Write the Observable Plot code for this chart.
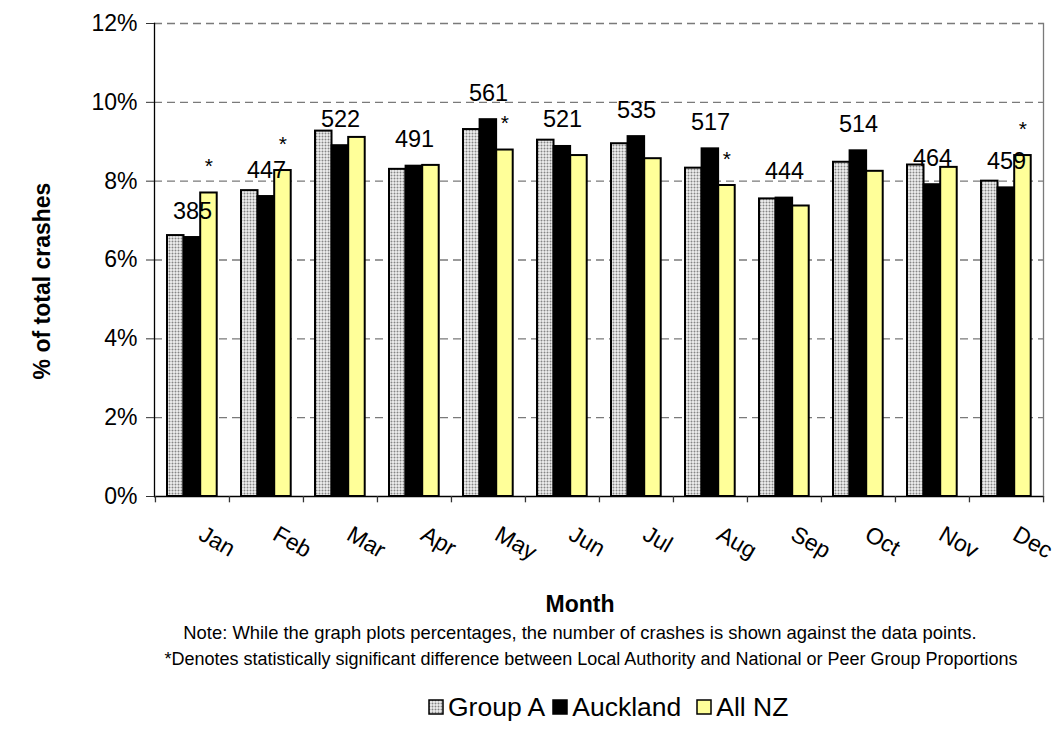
<!DOCTYPE html>
<html><head><meta charset="utf-8">
<script src="https://cdn.jsdelivr.net/npm/d3@7"></script>
<script src="https://cdn.jsdelivr.net/npm/@observablehq/plot@0.6"></script>
<style>
body{margin:0;background:#fff;font-family:"Liberation Sans",Arial,sans-serif;}
#wrap{position:relative;width:1058px;height:745px;overflow:hidden;}
#chart svg{font-family:"Liberation Sans",Arial,sans-serif;}
.abs{position:absolute;color:#000;white-space:nowrap;line-height:1;}
.legend{position:absolute;left:428px;top:694px;display:flex;align-items:center;font-size:26.5px;color:#000;line-height:1;}
.legend .item{display:flex;align-items:center;}
.legend svg{margin-right:4px;}
</style></head><body>
<div id="wrap">
<svg width="0" height="0" style="position:absolute"><defs>
<pattern id="dots" width="3" height="3" patternUnits="userSpaceOnUse">
<rect width="3" height="3" fill="#f0f0f0"/>
<circle cx="1.5" cy="1.5" r="1" fill="#858585"/>
</pattern></defs></svg>
<div id="chart"></div>
<div class="abs" style="left:0;width:1160px;text-align:center;top:593px;font-weight:bold;font-size:23px;">Month</div>
<div class="abs" style="left:0;width:1160px;text-align:center;top:624px;font-size:18.4px;">Note: While the graph plots percentages, the number of crashes is shown against the data points.</div>
<div class="abs" style="left:0;width:1182px;text-align:center;top:650px;font-size:18px;">*Denotes statistically significant difference between Local Authority and National or Peer Group Proportions</div>
<div class="legend" id="legend"></div>
</div>
<script>
const months = ["Jan","Feb","Mar","Apr","May","Jun","Jul","Aug","Sep","Oct","Nov","Dec"];
const seriesNames = ["Group A","Auckland","All NZ"];
const groupA   = [6.62, 7.76, 9.27, 8.30, 9.31, 9.04, 8.95, 8.33, 7.55, 8.48, 8.41, 8.00];
const auckland = [6.57, 7.61, 8.90, 8.38, 9.56, 8.88, 9.13, 8.82, 7.57, 8.77, 7.91, 7.83];
const allNZ    = [7.70, 8.27, 9.11, 8.40, 8.79, 8.65, 8.57, 7.89, 7.37, 8.25, 8.35, 8.65];
const counts   = [385, 447, 522, 491, 561, 521, 535, 517, 444, 514, 464, 459];
const significant = [true, true, false, false, true, false, false, true, false, false, false, true];
const yTicks = [0, 2, 4, 6, 8, 10, 12];

const fills = {"Group A": "url(#dots)", "Auckland": "#000000", "All NZ": "#FFFF99"};
const seriesValues = [groupA, auckland, allNZ];

const W = 1058, H = 580, mL = 154, mR = 15, mT = 23, mB = 84;
const bw = (W - mL - mR) / months.length;
const barW = 16.6, groupPad = 12;

const rows = months.map((m, i) => ({month: m, groupA: groupA[i], auckland: auckland[i], allNZ: allNZ[i], count: counts[i], sig: significant[i]}));

const barMarks = seriesNames.map((s, k) => Plot.barY(months.map((m, i) => ({month: m, value: seriesValues[k][i]})), {
  x: "month", y: "value", fill: fills[s], stroke: "#000", strokeWidth: 2,
  insetLeft: groupPad + k * barW, insetRight: bw - (groupPad + (k + 1) * barW)
}));

const chart = Plot.plot({
  width: W, height: H, marginLeft: mL, marginRight: mR, marginTop: mT, marginBottom: mB,
  x: {domain: months, padding: 0, axis: null},
  y: {domain: [0, 12], axis: null},
  style: {fontFamily: '"Liberation Sans", Arial, sans-serif', color: "#000", background: "#fff"},
  marks: [
    Plot.gridY(yTicks.filter(d => d > 0), {stroke: "#7a7a7a", strokeOpacity: 1, strokeDasharray: "8,5", strokeWidth: 1.3}),
    Plot.frame({anchor: "right", stroke: "#7a7a7a", strokeWidth: 1.3}),
    ...barMarks,
    Plot.ruleY([0], {stroke: "#000", strokeWidth: 1.3}),
    Plot.frame({anchor: "left", stroke: "#000", strokeWidth: 1.3}),
    Plot.axisY({ticks: yTicks, tickFormat: d => d + "%", tickSize: 8, tickPadding: 9, fontSize: 23, label: null, stroke: "#333"}),
    Plot.ruleX(months, {x: d => d, y1: 0, y2: -0.16, dx: -bw / 2, stroke: "#333", strokeWidth: 1.3}),
    Plot.ruleX([months[months.length - 1]], {x: d => d, y1: 0, y2: -0.16, dx: bw / 2, stroke: "#333", strokeWidth: 1.3}),
    Plot.text(months, {x: d => d, y: 0, text: d => d, rotate: 30, textAnchor: "start", lineAnchor: "top", dx: 13, dy: 28, fontSize: 23, fill: "#000"}),
    Plot.text(rows, {x: "month", y: "auckland", text: d => String(d.count), textAnchor: "middle", lineAnchor: "bottom", dy: -19, fontSize: 23.5, fill: "#000"}),
    Plot.text(rows.filter(d => d.sig), {x: "month", y: "allNZ", text: () => "*", textAnchor: "middle", lineAnchor: "bottom", dx: groupPad + 2.5 * barW - bw / 2, dy: -20, fontSize: 21, fill: "#000"}),
    Plot.text(["% of total crashes"], {frameAnchor: "left", text: d => d, rotate: -90, textAnchor: "middle", lineAnchor: "middle", dx: -112, dy: 21, fontSize: 23, fontWeight: "bold", fill: "#000"})
  ]
});
document.getElementById("chart").appendChild(chart);

const legend = document.getElementById("legend");
const legendGaps = [7, 15, 0];
seriesNames.forEach((s, k) => {
  const item = document.createElement("div");
  item.className = "item";
  item.style.marginRight = legendGaps[k] + "px";
  item.innerHTML = `<svg width="16" height="16"><rect x="1" y="1" width="14" height="14" fill="${fills[s]}" stroke="#000" stroke-width="1.5"/></svg><span>${s}</span>`;
  legend.appendChild(item);
});
</script>
</body></html>
